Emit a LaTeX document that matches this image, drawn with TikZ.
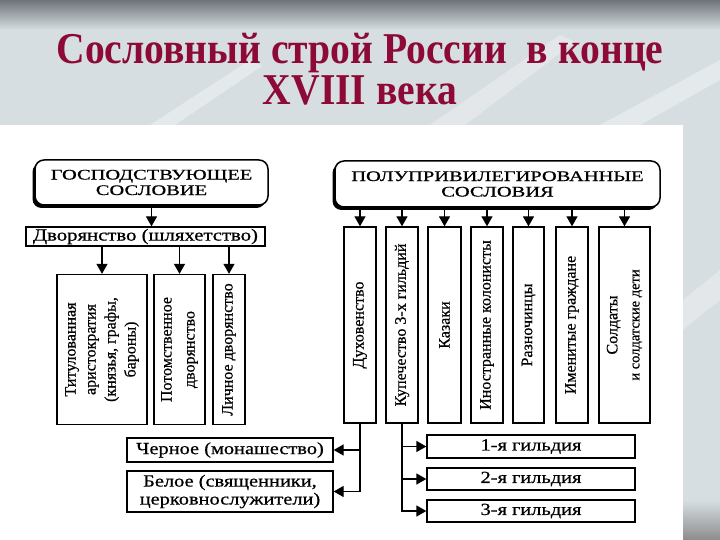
\documentclass[tikz,border=0pt]{standalone}
\usepackage{fontspec}
\setmainfont{Liberation Serif}
\newfontfamily\dfont{Liberation Serif}[FakeBold=0.6]
\usepackage{graphicx}
\usetikzlibrary{arrows.meta,shadows}
\definecolor{topg}{HTML}{6E7479}
\definecolor{bgc}{HTML}{D7DEE2}
\definecolor{titlec}{HTML}{8C0A35}
\newcommand\hs[1]{\scalebox{1.2}[1]{#1}}
\newcommand\hcaps[1]{\scalebox{1.4}[1]{#1}}
\begin{document}
\begin{tikzpicture}[x=1pt,y=-1pt,
  titletext/.style={text=titlec, font=\fontsize{44}{46}\bfseries\selectfont, anchor=base, inner sep=0},
  rbox/.style={draw, line width=1.5pt, rounded corners=9pt, fill=white, align=center, inner sep=0,
     font=\dfont\fontsize{14.6}{15.5}\selectfont,
     drop shadow={shadow xshift=-2.5pt, shadow yshift=-3pt, opacity=1, fill=black}},
  hbox/.style={draw, line width=1.3pt, fill=white, align=center, inner sep=0,
     font=\dfont\fontsize{17}{18}\selectfont},
  vbox/.style={draw, line width=1.3pt, fill=white, align=center, inner sep=0, rotate=90,
     minimum width=196pt, font=\dfont\fontsize{16}{20}\selectfont},
  lvbox/.style={vbox, minimum width=150pt},
  arr/.style={line width=1.3pt, -{Triangle[length=10pt,width=11pt]}}
]
\useasboundingbox (0,0) rectangle (720,540);
% background
\fill[bgc] (0,0) rectangle (720,540);
\shade[top color=topg, bottom color=bgc] (0,0) rectangle (720,30);
\fill[white,opacity=0.35] (150,125) -- (250,60) -- (262,66) -- (175,125) -- cycle;
\fill[white,opacity=0.3] (430,125) -- (560,35) -- (575,42) -- (465,125) -- cycle;
\fill[white,opacity=0.35] (600,125) -- (720,60) -- (720,80) -- (640,125) -- cycle;
\fill[white,opacity=0.3] (683,300) -- (720,270) -- (720,300) -- (683,330) -- cycle;
\shade[top color=bgc, bottom color=gray!90] (683,500) rectangle (720,540);
\fill[white] (0,125) rectangle (683,540);
% title
\node[titletext] (t1) at (360,64) {\scalebox{0.9}[1]{Сословный строй России\ \ в конце}};
\node[titletext] (t2) at (360,105) {\scalebox{0.9}[1]{XVIII века}};
% left branch
\node[rbox, minimum width=233pt, minimum height=45pt] (gos) at (151.5,182.5)
  {\hcaps{ГОСПОДСТВУЮЩЕЕ}\\\hcaps{СОСЛОВИЕ}};
\node[hbox, minimum width=239pt, minimum height=19pt] (dvor) at (145.5,236.5)
  {\scalebox{1.22}[1]{Дворянство (шляхетство)}};
\node[lvbox, minimum height=90pt] (tit) at (102,349.5)
  {Титулованная\\аристократия\\(князья, графы,\\бароны)};
\node[lvbox, minimum height=51pt, font=\dfont\fontsize{16}{23}\selectfont] (pot) at (179.5,349.5)
  {Потомственное\\дворянство};
\node[lvbox, minimum height=32pt] (lich) at (229,349.5) {Личное дворянство};
\draw[arr] (gos.south) -- (gos.south |- dvor.north);
\foreach \b in {tit,pot,lich}
  \draw[arr] (\b.east |- dvor.south) -- (\b.east);
% right branch
\node[rbox, minimum width=325pt, minimum height=46pt] (pol) at (497.5,184)
  {\hcaps{ПОЛУПРИВИЛЕГИРОВАННЫЕ}\\\hcaps{СОСЛОВИЯ}};
\node[vbox, minimum height=32pt] (duh) at (360,325) {Духовенство};
\node[vbox, minimum height=32pt] (kup) at (402,325) {Купечество 3-х гильдий};
\node[vbox, minimum height=33pt] (kaz) at (444.5,325) {Казаки};
\node[vbox, minimum height=32pt] (ino) at (487,325) {Иностранные колонисты};
\node[vbox, minimum height=31pt] (raz) at (528.5,325) {Разночинцы};
\node[vbox, minimum height=32pt] (imen) at (572,325) {Именитые граждане};
\node[vbox, minimum height=51pt, font=\dfont\fontsize{16}{22}\selectfont] (sold) at (624.5,325)
  {Солдаты\\{\fontsize{14.5}{15}\selectfont и солдатские дети}};
\foreach \b in {duh,kup,kaz,ino,raz,imen,sold}
  \draw[arr] (\b.east |- pol.south) -- (\b.east);
% bottom
\node[hbox, minimum width=206pt, minimum height=24pt] (cher) at (230,450)
  {\hs{Черное (монашество)}};
\node[hbox, minimum width=206pt, minimum height=41pt] (bel) at (230,491.5)
  {\hs{Белое (священники,}\\\hs{церковнослужители)}};
\node[hbox, minimum width=208pt, minimum height=23pt] (g1) at (531,446.5) {\hs{1-я гильдия}};
\node[hbox, minimum width=208pt, minimum height=22pt] (g2) at (531,479) {\hs{2-я гильдия}};
\node[hbox, minimum width=208pt, minimum height=22pt] (g3) at (531,511) {\hs{3-я гильдия}};
\draw[arr] (duh.west) |- (cher.east);
\draw[arr] (duh.west) |- (bel.east);
\draw[arr] (kup.west) |- (g1.west);
\draw[arr] (kup.west) |- (g2.west);
\draw[arr] (kup.west) |- (g3.west);
\end{tikzpicture}
\end{document}
